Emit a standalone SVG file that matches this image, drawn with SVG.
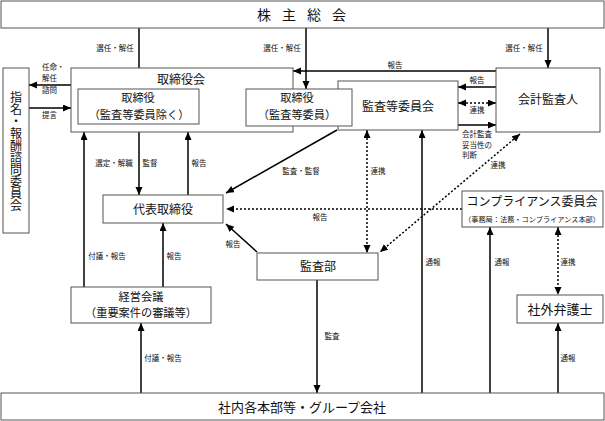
<svg xmlns="http://www.w3.org/2000/svg" width="605" height="421" viewBox="0 0 605 421">
<style>
.box{fill:#fff;stroke:#555;stroke-width:1}
.t{font-family:"Noto Sans CJK JP","Liberation Sans",sans-serif;font-size:12px;fill:#111;text-anchor:middle}
.t2{font-size:11.2px}
.l{font-family:"Noto Sans CJK JP","Liberation Sans",sans-serif;font-size:7.5px;fill:#111;text-anchor:middle}
.ls{text-anchor:start}
.ln{stroke:#000;stroke-width:1.5;fill:none;marker-end:url(#ah)}
.dt{stroke:#000;stroke-width:1.5;fill:none;stroke-dasharray:2,2;marker-end:url(#ah)}
.dd{marker-start:url(#ah)}
</style>
<defs>
<marker id="ah" markerUnits="userSpaceOnUse" markerWidth="9" markerHeight="8" refX="8" refY="3.5" orient="auto-start-reverse" viewBox="0 0 9 8">
<path d="M0,0 L8,3.5 L0,7 z" fill="#000"/>
</marker>
</defs>
<rect width="605" height="421" fill="#fff"/>

<g id="connectors">
<line class="ln" x1="139" y1="28" x2="139" y2="89"/>
<line class="ln" x1="306" y1="28" x2="306" y2="89"/>
<line class="ln" x1="548" y1="28" x2="548" y2="68"/>
<line class="ln" x1="496" y1="71" x2="293" y2="71"/>
<line class="ln" x1="496" y1="87" x2="458" y2="87"/>
<line class="dt dd" x1="458" y1="103" x2="496" y2="103"/>
<line class="ln" x1="458" y1="125" x2="496" y2="125"/>
<line class="ln" x1="71" y1="85" x2="29" y2="85"/>
<line class="ln" x1="29" y1="108" x2="71" y2="108"/>
<line class="ln" x1="246" y1="107" x2="199" y2="107"/>
<line class="ln" x1="139" y1="132" x2="139" y2="195"/>
<line class="ln" x1="188" y1="195" x2="188" y2="132"/>
<line class="ln" x1="84" y1="287" x2="84" y2="132"/>
<line class="ln" x1="163" y1="287" x2="163" y2="223"/>
<line class="ln" x1="141" y1="393" x2="141" y2="323"/>
<line class="ln" x1="337" y1="130" x2="226" y2="193"/>
<line class="ln" x1="257" y1="252" x2="226" y2="224"/>
<line class="dt" x1="462" y1="209" x2="226" y2="209"/>
<line class="dt dd" x1="367" y1="130" x2="367" y2="253"/>
<line class="ln" x1="422" y1="393" x2="422" y2="130"/>
<line class="dt dd" x1="520" y1="134" x2="380" y2="252"/>
<line class="ln" x1="490" y1="393" x2="490" y2="227"/>
<line class="dt dd" x1="558" y1="227" x2="558" y2="295"/>
<line class="ln" x1="558" y1="393" x2="558" y2="323"/>
<line class="ln" x1="317" y1="280" x2="317" y2="393"/>
</g>

<g id="labels">
<text class="l" x="115" y="51">選任・解任</text>
<text class="l" x="282" y="51">選任・解任</text>
<text class="l" x="524" y="51">選任・解任</text>
<text class="l" x="395" y="68">報告</text>
<text class="l ls" x="42" y="70">任命・</text>
<text class="l ls" x="42" y="81">解任</text>
<text class="l ls" x="42" y="93">諮問</text>
<text class="l ls" x="42" y="118">提言</text>
<text class="l" x="222" y="118">監査・監督</text>
<text class="l" x="477" y="83">報告</text>
<text class="l" x="477" y="113">連携</text>
<text class="l ls" x="462" y="137">会計監査</text>
<text class="l ls" x="462" y="148">妥当性の</text>
<text class="l ls" x="462" y="158">判断</text>
<text class="l" x="498" y="168">連携</text>
<text class="l" x="114" y="166">選定・解職</text>
<text class="l" x="150" y="166">監督</text>
<text class="l" x="199" y="166">報告</text>
<text class="l" x="301" y="174">監査・監督</text>
<text class="l" x="378" y="174">連携</text>
<text class="l" x="320" y="220">報告</text>
<text class="l" x="233" y="247">報告</text>
<text class="l" x="107" y="259">付議・報告</text>
<text class="l" x="174" y="259">報告</text>
<text class="l" x="433" y="265">通報</text>
<text class="l" x="502" y="265">通報</text>
<text class="l" x="568" y="265">連携</text>
<text class="l" x="163" y="361">付議・報告</text>
<text class="l" x="332" y="339">監査</text>
<text class="l" x="568" y="361">通報</text>
</g>

<g id="shareholders">
<rect class="box" x="1" y="1" width="603" height="27"/>
<text class="t ls" x="257" y="20" style="font-size:14px;letter-spacing:11px">株主総会</text>
</g>

<g id="board">
<rect class="box" x="71" y="68" width="222" height="64"/>
<text class="t" x="181" y="84">取締役会</text>
</g>

<g id="directors">
<rect class="box" x="78" y="89" width="121" height="35"/>
<text class="t t2" x="138" y="102">取締役</text>
<text class="t t2" x="139" y="118.5">（監査等委員除く）</text>
</g>

<g id="audit-committee">
<rect class="box" x="338" y="81" width="120" height="49"/>
<text class="t" x="398" y="111">監査等委員会</text>
</g>

<g id="audit-directors">
<rect class="box" x="246" y="89" width="106" height="37"/>
<text class="t t2" x="297" y="102">取締役</text>
<text class="t t2" x="297" y="118.5">（監査等委員）</text>
</g>

<g id="accounting-auditor">
<rect class="box" x="496" y="68" width="104" height="64"/>
<text class="t" x="548" y="104">会計監査人</text>
</g>

<g id="nomination-committee">
<rect class="box" x="3" y="68" width="26" height="165"/>
<text class="t ls" x="16" y="91" writing-mode="vertical-rl" style="writing-mode:vertical-rl;font-size:12px">指名・報酬諮問委員会</text>
</g>

<g id="representative">
<rect class="box" x="103" y="195" width="120" height="28"/>
<text class="t" x="163" y="214">代表取締役</text>
</g>

<g id="audit-dept">
<rect class="box" x="257" y="253" width="121" height="27"/>
<text class="t" x="318" y="271">監査部</text>
</g>

<g id="compliance">
<rect class="box" x="462" y="191" width="141" height="36"/>
<text class="t" x="532" y="206">コンプライアンス委員会</text>
<text class="t" x="532" y="221.5" style="font-size:7.2px">（事務局：法務・コンプライアンス本部）</text>
</g>

<g id="management-meeting">
<rect class="box" x="71" y="287" width="140" height="36"/>
<text class="t t2" x="141" y="300.5">経営会議</text>
<text class="t t2" x="141" y="317">（重要案件の審議等）</text>
</g>

<g id="lawyer">
<rect class="box" x="517" y="295" width="86" height="28"/>
<text class="t" x="560" y="314" style="font-size:13px">社外弁護士</text>
</g>

<g id="group">
<rect class="box" x="1" y="393" width="603" height="27"/>
<text class="t" x="302" y="412" style="font-size:13px">社内各本部等・グループ会社</text>
</g>
</svg>
